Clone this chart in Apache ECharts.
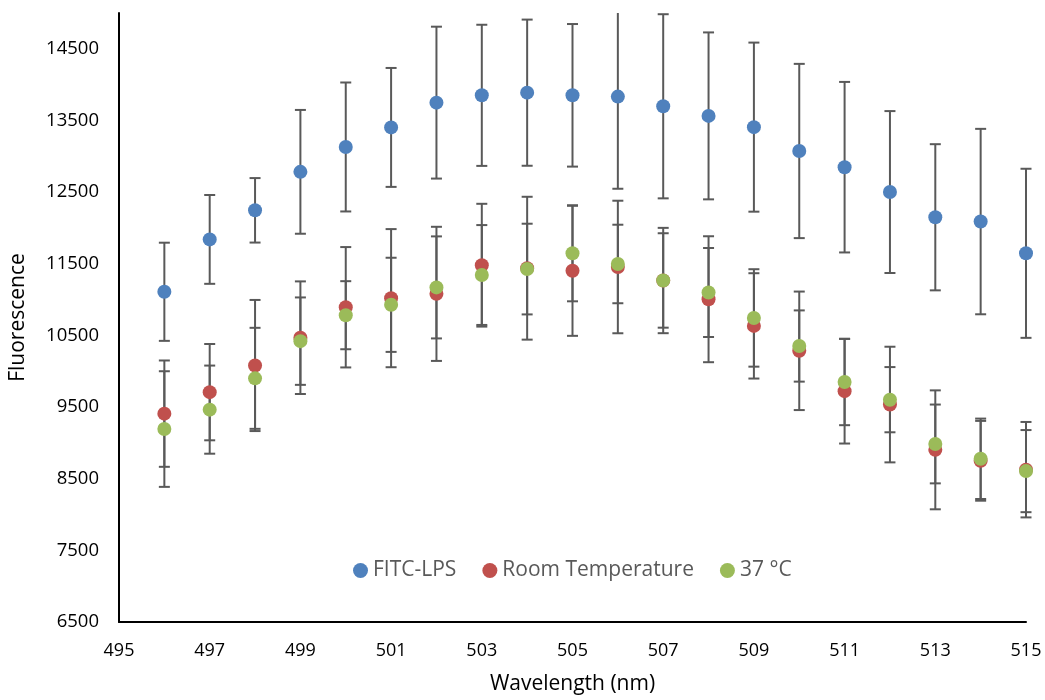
<!DOCTYPE html>
<html>
<head>
<meta charset="utf-8">
<script src="https://cdn.jsdelivr.net/npm/echarts@6/dist/echarts.min.js"></script>
<style>
html,body{margin:0;padding:0;background:#fff;}
#chart{width:1045px;height:700px;}
</style>
</head>
<body>
<div id="chart"></div>
<script>
const wavelengths = [496,497,498,499,500,501,502,503,504,505,506,507,508,509,510,511,512,513,514,515];

const fitcLps    = [11109,11840,12246,12783,13130,13403,13749,13851,13888,13851,13833,13698,13564,13407,13074,12848,12501,12149,12089,11646];
const fitcLpsErr = [685,620,450,864,900,830,1060,985,1020,995,1286,1285,1165,1180,1216,1190,1130,1020,1294,1180];

const roomTemp    = [9408,9708,10080,10468,10893,11020,11080,11480,11438,11402,11455,11266,11005,10633,10285,9722,9535,8903,8750,8626];
const roomTempErr = [742,672,915,786,840,964,936,857,997,908,925,735,879,735,827,731,807,830,557,666];

const temp37    = [9193,9464,9901,10420,10782,10927,11170,11343,11426,11646,11497,11267,11099,10744,10352,9849,9603,8985,8778,8606];
const temp37Err = [807,615,705,610,475,657,712,697,633,670,548,659,621,680,497,602,455,550,561,573];

const yTickMin = 6500, yTickMax = 15000, yTickStep = 1000;
const xTickMin = 495, xTickMax = 515, xTickStep = 2;

const seriesNames = ['FITC-LPS', 'Room Temperature', '37 \u00B0C'];
const seriesColors = ['#4F81BD', '#C0504D', '#9BBB59'];
const seriesValues = [fitcLps, roomTemp, temp37];
const seriesErrors = [fitcLpsErr, roomTempErr, temp37Err];

function errorBarSeries(idx) {
  return {
    type: 'custom',
    name: seriesNames[idx] + ' err',
    clip: false,
    z: 1,
    silent: true,
    data: wavelengths.map((w, i) => [w, seriesValues[idx][i], seriesErrors[idx][i]]),
    encode: { x: 0, y: 1 },
    renderItem: function (params, api) {
      const x = api.value(0), y = api.value(1), e = api.value(2);
      const cs = params.coordSys;
      const hi = api.coord([x, y + e]);
      const lo = api.coord([x, y - e]);
      const cw = 5.5;
      const st = { stroke: '#595959', lineWidth: 2 };
      const children = [];
      const topClipped = hi[1] < cs.y;
      const yTop = topClipped ? cs.y : hi[1];
      children.push({ type: 'line', shape: { x1: hi[0], y1: yTop, x2: lo[0], y2: lo[1] }, style: st });
      if (!topClipped) {
        children.push({ type: 'line', shape: { x1: hi[0] - cw, y1: hi[1], x2: hi[0] + cw, y2: hi[1] }, style: st });
      }
      children.push({ type: 'line', shape: { x1: lo[0] - cw, y1: lo[1], x2: lo[0] + cw, y2: lo[1] }, style: st });
      return { type: 'group', children: children };
    }
  };
}

function scatterSeries(idx) {
  return {
    type: 'scatter',
    name: seriesNames[idx],
    z: 3,
    symbol: 'circle',
    symbolSize: 14,
    itemStyle: { color: seriesColors[idx], opacity: 1 },
    data: wavelengths.map((w, i) => [w, seriesValues[idx][i]])
  };
}

const chart = echarts.init(document.getElementById('chart'));
const textFont = 'Open Sans';
chart.setOption({
  animation: false,
  backgroundColor: '#ffffff',
  grid: { left: 115, right: 19, top: 13, bottom: 76, containLabel: false },
  legend: {
    data: seriesNames.map((n, i) => ({ name: n, icon: 'circle', itemStyle: { color: seriesColors[i] } })),
    left: 348,
    top: 555,
    itemWidth: 15,
    itemHeight: 15,
    itemGap: 26,
    textStyle: { color: '#595959', fontSize: 21, fontFamily: textFont, padding: [0, 0, 0, 0] }
  },
  xAxis: {
    type: 'value',
    min: xTickMin,
    max: xTickMax,
    interval: xTickStep,
    name: 'Wavelength (nm)',
    nameLocation: 'middle',
    nameGap: 52,
    nameTextStyle: { color: '#000', fontSize: 21, fontFamily: textFont },
    axisLine: { show: true, lineStyle: { color: '#000', width: 2 } },
    axisTick: { show: false },
    splitLine: { show: false },
    axisLabel: { color: '#000', fontSize: 18, fontFamily: textFont, margin: 20 }
  },
  yAxis: {
    type: 'value',
    min: yTickMin,
    max: yTickMax,
    interval: yTickStep,
    name: 'Fluorescence',
    nameLocation: 'middle',
    nameGap: 90,
    nameTextStyle: { color: '#000', fontSize: 21, fontFamily: textFont },
    axisLine: { show: true, lineStyle: { color: '#000', width: 2 } },
    axisTick: { show: false },
    splitLine: { show: false },
    axisLabel: {
      color: '#000', fontSize: 18.5, fontFamily: textFont, margin: 20, showMaxLabel: false,
      formatter: function (v) { return String(v); }
    }
  },
  series: [
    errorBarSeries(0), errorBarSeries(1), errorBarSeries(2),
    scatterSeries(0), scatterSeries(1), scatterSeries(2)
  ]
});
</script>
</body>
</html>
